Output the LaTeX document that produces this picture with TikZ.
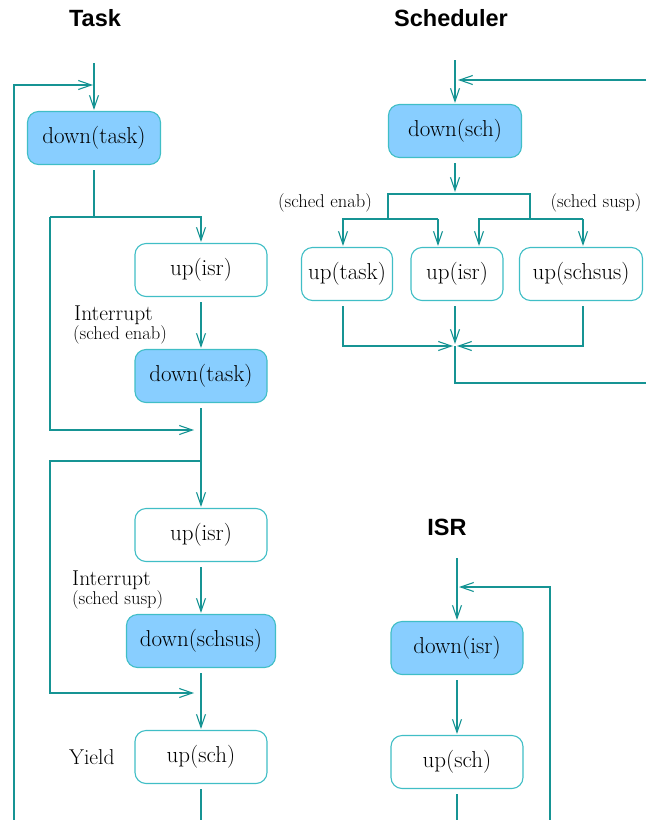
\documentclass[tikz,border=0pt]{standalone}
\usepackage{fontspec}
\newfontfamily\headfont{Liberation Sans}
\usetikzlibrary{arrows.meta}
\definecolor{flow}{RGB}{22,148,148}
\definecolor{rim}{RGB}{64,190,198}
\definecolor{active}{RGB}{136,206,255}
\begin{document}
\begin{tikzpicture}[x=1pt,y=-1pt,
  flowline/.style={draw=flow, line width=1.8pt},
  arr/.style={flowline, -{Straight Barb[length=13pt,width=9pt,line width=1.1pt]}},
  leave/.style={shorten <=5pt},
  state/.style={draw=rim, line width=1.1pt, rounded corners=11pt, minimum height=53pt,
                inner sep=0pt, font=\fontsize{23}{27}\selectfont},
  holdbox/.style={state, fill=active},
  freebox/.style={state, fill=white},
  title/.style={font=\headfont\bfseries\fontsize{23.5}{28}\selectfont},
  note/.style={font=\fontsize{21.5}{25}\selectfont, inner sep=0pt, anchor=west},
  cond/.style={font=\fontsize{18.5}{22}\selectfont, inner sep=0pt},
]
\useasboundingbox (0,0) rectangle (646,820);

% ---------- titles ----------
\node[title] (ttask) at (95,18) {Task};
\node[title] (tsch) at (451,18) {Scheduler};
\node[title] (tisr) at (447,527) {ISR};

% ---------- task column ----------
\node[holdbox, minimum width=133pt] (dt1) at (94,138) {down(task)};
\node[freebox, minimum width=132pt] (ui1) at (201,270) {up(isr)};
\node[holdbox, minimum width=132pt] (dt2) at (201,376) {down(task)};
\node[freebox, minimum width=132pt] (ui2) at (201,535) {up(isr)};
\node[holdbox, minimum width=149pt] (dss) at (201,641) {down(schsus)};
\node[freebox, minimum width=132pt] (us1) at (201,757) {up(sch)};

\node[note] (int1) at (74,315) {Interrupt};
\node[cond, anchor=west] (c1) at (73,335) {(sched enab)};
\node[note] (int2) at (72,580) {Interrupt};
\node[cond, anchor=west] (c2) at (72,600) {(sched susp)};
\node[note] (yld) at (69,757) {Yield};

\coordinate (tin) at (94,63);
\coordinate (tloop) at (94,85);
\coordinate (tlb) at (14,820);
\coordinate (tlt) at (14,85);
\coordinate (j1) at (94,217);
\coordinate (j1l) at (50,217);
\coordinate (j1r) at (201,217);
\coordinate (j1d) at (50,430);
\coordinate (m1) at (201,430);
\coordinate (j2) at (201,461);
\coordinate (j2l) at (50,461);
\coordinate (j2d) at (50,693);
\coordinate (m2) at (201,693);
\coordinate (tout) at (201,820);

\draw[arr, shorten >=1pt] (tin) -- (dt1.north);
\draw[arr, shorten >=1pt] (tlb) -- (tlt) -- (tloop);
\draw[flowline, leave] (dt1.south) -- (j1);
\draw[arr, shorten >=1pt] (j1l) -- (j1r) -- (ui1.north);
\draw[arr, shorten >=7pt] (j1l) -- (j1d) -- (m1);
\draw[arr, leave, shorten >=1pt] (ui1.south) -- (dt2.north);
\draw[arr, leave, shorten >=1pt] (dt2.south) -- (ui2.north);
\draw[arr, shorten >=7pt] (j2) -- (j2l) -- (j2d) -- (m2);
\draw[arr, leave, shorten >=1pt] (ui2.south) -- (dss.north);
\draw[arr, leave, shorten >=1pt] (dss.south) -- (us1.north);
\draw[flowline, leave] (us1.south) -- (tout);

% ---------- scheduler ----------
\node[holdbox, minimum width=133pt] (ds) at (455,131) {down(sch)};
\node[freebox, minimum width=91pt] (ut) at (347,274) {up(task)};
\node[freebox, minimum width=92pt] (ui) at (457,274) {up(isr)};
\node[freebox, minimum width=123pt] (uss) at (581,274) {up(schsus)};

\node[cond] (c3) at (325,203) {(sched enab)};
\node[cond] (c4) at (596,203) {(sched susp)};

\coordinate (sin) at (455,60);
\coordinate (sret) at (646,80);
\coordinate (sretin) at (455,80);
\coordinate (s1) at (455,194);
\coordinate (s1l) at (388,194);
\coordinate (s1r) at (530,194);
\coordinate (s2l) at (388,219);
\coordinate (s2r) at (530,219);
\coordinate (s3a) at (343,219);
\coordinate (s3b) at (438,219);
\coordinate (s3c) at (479,219);
\coordinate (s3d) at (583,219);
\coordinate (ma) at (343,346);
\coordinate (mc) at (583,346);
\coordinate (mm) at (455,346);
\coordinate (mo) at (455,383);
\coordinate (sout) at (646,383);

\draw[arr, shorten >=1pt] (sin) -- (ds.north);
\draw[arr, shorten >=3pt] (sret) -- (sretin);
\draw[arr, leave, shorten >=2pt] (ds.south) -- (s1);
\draw[flowline] (s2l) -- (s1l) -- (s1r) -- (s2r);
\draw[arr, shorten >=1pt] (s3b) -- (s3a) -- (s3a |- ut.north);
\draw[arr, shorten >=1pt] (s3b) -- (s3b |- ui.north);
\draw[arr, shorten >=1pt] (s3d) -- (s3c) -- (s3c |- ui.north);
\draw[arr, shorten >=1pt] (s3d) -- (s3d |- uss.north);
\draw[arr, shorten >=2pt, shorten <=5pt] (ma |- ut.south) -- (ma) -- (mm);
\draw[arr, shorten >=2pt, shorten <=5pt] (mc |- uss.south) -- (mc) -- (mm);
\draw[arr, shorten >=2pt, shorten <=5pt] (mm |- ui.south) -- (mm);
\draw[flowline] (mm) -- (mo) -- (sout);

% ---------- ISR ----------
\node[holdbox, minimum width=132pt] (di) at (457,648) {down(isr)};
\node[freebox, minimum width=132pt] (ui3) at (457,762) {up(sch)};

\coordinate (iin) at (457,558);
\coordinate (ilb) at (550,820);
\coordinate (ilt) at (550,587);
\coordinate (iloop) at (457,587);
\coordinate (iout) at (457,820);

\draw[arr, shorten >=1pt] (iin) -- (di.north);
\draw[arr, shorten >=2pt] (ilb) -- (ilt) -- (iloop);
\draw[arr, leave, shorten >=1pt] (di.south) -- (ui3.north);
\draw[flowline, leave] (ui3.south) -- (iout);
\end{tikzpicture}
\end{document}
